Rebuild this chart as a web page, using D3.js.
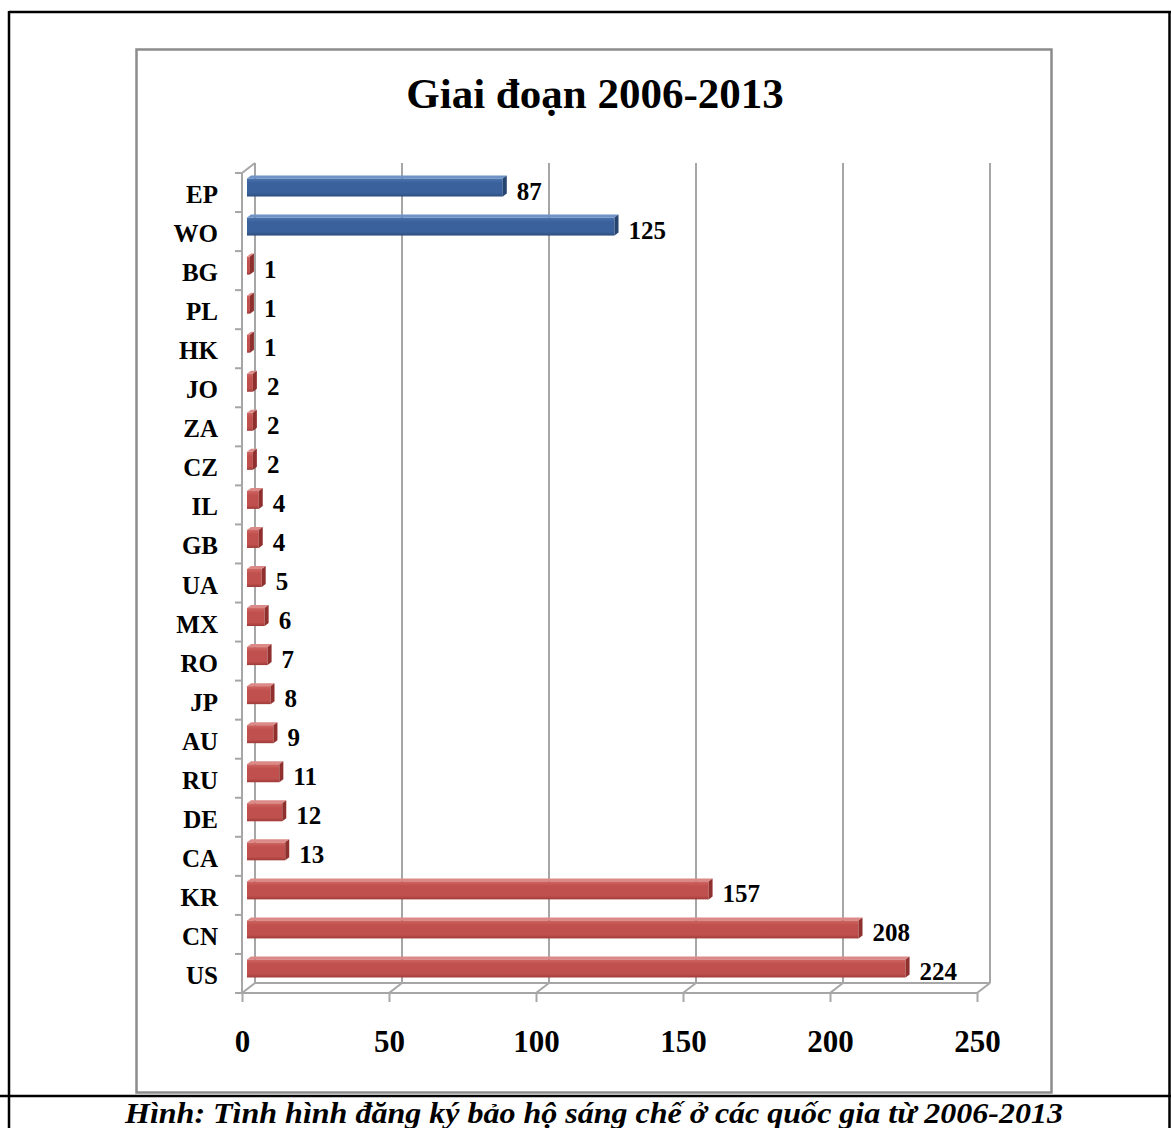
<!DOCTYPE html>
<html>
<head>
<meta charset="utf-8">
<script src="https://cdn.jsdelivr.net/npm/d3@7"></script>
<style>
  html, body { margin: 0; padding: 0; background: #fff; }
  svg { display: block; }
  text { font-family: "Liberation Serif", "Times New Roman", serif; }
</style>
</head>
<body>
<svg id="chart" width="1171" height="1128"></svg>
<script>
// Countries / offices, top to bottom
const categories = ["EP", "WO", "BG", "PL", "HK", "JO", "ZA", "CZ", "IL", "GB", "UA",
                    "MX", "RO", "JP", "AU", "RU", "DE", "CA", "KR", "CN", "US"];
// Number of patent filings 2006-2013
const values = [87, 125, 1, 1, 1, 2, 2, 2, 4, 4, 5, 6, 7, 8, 9, 11, 12, 13, 157, 208, 224];
// Regional / international offices are drawn in blue, national offices in red
const regional = ["EP", "WO"];
const xTicks = [0, 50, 100, 150, 200, 250];
const chartTitle = "Giai đoạn 2006-2013";
const caption = "Hình: Tình hình đăng ký bảo hộ sáng chế ở các quốc gia từ 2006-2013";

const FONT = "'Liberation Serif', 'Times New Roman', serif";
const svg = d3.select("#chart");

// Outer frame (table cell) and caption separator
const frame = svg.append("g").attr("stroke", "#000").attr("stroke-width", 2.5).attr("fill", "none");
frame.append("line").attr("x1", 9).attr("y1", 12).attr("x2", 1171).attr("y2", 12);
frame.append("line").attr("x1", 9).attr("y1", 11).attr("x2", 9).attr("y2", 1128);
frame.append("line").attr("x1", 1169.5).attr("y1", 11).attr("x2", 1169.5).attr("y2", 1128);
frame.append("line").attr("x1", 0).attr("y1", 1096).attr("x2", 1171).attr("y2", 1096);

// Chart area border
svg.append("rect")
  .attr("x", 136.5).attr("y", 49.5).attr("width", 915).attr("height", 1043)
  .attr("fill", "#fff").attr("stroke", "#8c8c8c").attr("stroke-width", 2.5);

// Title
svg.append("text")
  .attr("x", 595).attr("y", 108)
  .attr("text-anchor", "middle")
  .attr("font-family", FONT)
  .attr("font-size", 43).attr("font-weight", "bold")
  .text(chartTitle);

// Scales (front plane of the 3-D plot)
const x = d3.scaleLinear().domain([0, 250]).range([242, 977]);
const y = d3.scaleBand().domain(categories).range([173, 993]).padding(0);

// Depth of the 3-D walls
const DX = 13, DY = -10;
const y0 = y.range()[0], y1 = y.range()[1];
const gridColor = "#a6a6a6";

const walls = svg.append("g").attr("stroke", gridColor).attr("stroke-width", 2).attr("fill", "none");
// Back-wall gridlines and floor diagonals
xTicks.forEach(t => {
  walls.append("line").attr("x1", x(t) + DX).attr("y1", y0 + DY).attr("x2", x(t) + DX).attr("y2", y1 + DY);
  walls.append("line").attr("x1", x(t)).attr("y1", y1).attr("x2", x(t) + DX).attr("y2", y1 + DY);
});
// Back floor edge
walls.append("line").attr("x1", x(0) + DX).attr("y1", y1 + DY).attr("x2", x(250) + DX).attr("y2", y1 + DY);
// Left wall: front edge and top diagonal
walls.append("line").attr("x1", x(0)).attr("y1", y0).attr("x2", x(0)).attr("y2", y1);
walls.append("line").attr("x1", x(0)).attr("y1", y0).attr("x2", x(0) + DX).attr("y2", y0 + DY);
// Front floor edge
walls.append("line").attr("x1", x(0)).attr("y1", y1).attr("x2", x(250)).attr("y2", y1);

// Category tick marks at band boundaries
const bounds = categories.map(c => y(c)).concat([y1]);
walls.selectAll(".ytick").data(bounds).join("line")
  .attr("class", "ytick")
  .attr("x1", x(0) - 7).attr("x2", x(0)).attr("y1", d => d).attr("y2", d => d);

// Bottom axis with tick labels
const xAxis = svg.append("g")
  .attr("transform", `translate(0,${y1})`)
  .call(d3.axisBottom(x).tickValues(xTicks).tickSize(9).tickPadding(28).tickFormat(d3.format("d")));
xAxis.select(".domain").remove();
xAxis.selectAll(".tick line").attr("stroke", gridColor).attr("stroke-width", 2);
xAxis.selectAll(".tick text")
  .attr("font-family", FONT)
  .attr("font-size", 31).attr("font-weight", "bold").attr("fill", "#000");

// Category labels
svg.append("g").selectAll("text").data(categories).join("text")
  .attr("x", 218)
  .attr("y", c => y(c) + y.bandwidth() / 2 + 2 + 8.5)
  .attr("text-anchor", "end")
  .attr("font-family", FONT)
  .attr("font-size", 25).attr("font-weight", "bold")
  .text(c => c);

// Gradients for the cylinder-like bar shading
const defs = svg.append("defs");
function grad(id, top, mid, bot) {
  const g = defs.append("linearGradient").attr("id", id).attr("x1", 0).attr("y1", 0).attr("x2", 0).attr("y2", 1);
  g.append("stop").attr("offset", "0%").attr("stop-color", top);
  g.append("stop").attr("offset", "25%").attr("stop-color", mid);
  g.append("stop").attr("offset", "80%").attr("stop-color", mid);
  g.append("stop").attr("offset", "100%").attr("stop-color", bot);
}
grad("gBlue", "#4a74ae", "#3a619b", "#2c4d7e");
grad("gRed", "#cf6663", "#c0504d", "#9e3b39");
const palette = {
  blue: { face: "url(#gBlue)", top: "#6f93c6", side: "#264470" },
  red:  { face: "url(#gRed)",  top: "#dc8a87", side: "#8f302e" }
};

// Bars: front face, top face and end cap
const SX = 5, BH = 18, BD = 4, BDY = -3;
const data = categories.map((c, i) => ({ c, v: values[i], col: regional.includes(c) ? "blue" : "red" }));
const bars = svg.append("g").selectAll("g").data(data).join("g");
bars.each(function (d) {
  const g = d3.select(this);
  const cy = y(d.c) + y.bandwidth() / 2 - 5;
  const xa = x(0) + SX, xb = x(d.v) + SX;
  const yt = cy - BH / 2, yb = cy + BH / 2;
  const p = palette[d.col];
  g.append("path")
    .attr("d", `M${xa},${yt}L${xb},${yt}L${xb + BD},${yt + BDY}L${xa + BD},${yt + BDY}Z`)
    .attr("fill", p.top);
  g.append("rect")
    .attr("x", xa).attr("y", yt).attr("width", Math.max(0, xb - xa)).attr("height", BH)
    .attr("fill", p.face);
  g.append("path")
    .attr("d", `M${xb},${yt}L${xb + BD},${yt + BDY}L${xb + BD},${yb + BDY}L${xb},${yb}Z`)
    .attr("fill", p.side);
});

// Value labels
svg.append("g").selectAll("text").data(data).join("text")
  .attr("x", d => x(d.v) + SX + BD + 10)
  .attr("y", d => y(d.c) + y.bandwidth() / 2 - 2 + 9)
  .attr("font-family", FONT)
  .attr("font-size", 25).attr("font-weight", "bold")
  .text(d => d.v);

// Caption
svg.append("text")
  .attr("x", 594).attr("y", 1123)
  .attr("text-anchor", "middle")
  .attr("font-family", FONT)
  .attr("font-size", 30).attr("font-weight", "bold").attr("font-style", "italic")
  .attr("textLength", 938).attr("lengthAdjust", "spacingAndGlyphs")
  .text(caption);
</script>
</body>
</html>
